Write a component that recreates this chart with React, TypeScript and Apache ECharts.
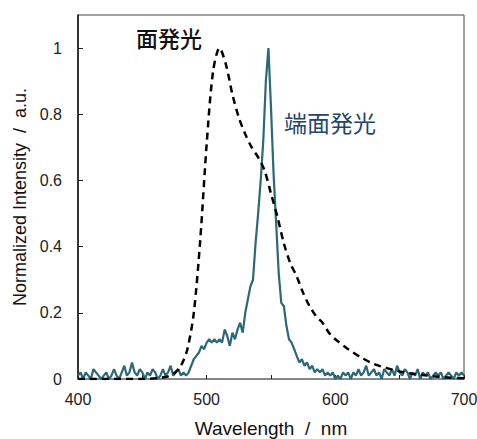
import React, { useEffect, useRef } from "react";
import * as echarts from "echarts";

const surfaceWl = [400, 450, 460, 465, 470, 475, 480, 485, 490, 495, 500, 505, 510, 515, 520, 525, 530, 535, 540, 545, 550, 555, 560, 565, 570, 575, 580, 585, 590, 595, 600, 610, 620, 630, 640, 650, 660, 670, 680, 690, 700];
const surfaceVal = [0, 0, 0.002, 0.004, 0.008, 0.018, 0.04, 0.09, 0.2, 0.42, 0.71, 0.93, 1.0, 0.95, 0.86, 0.79, 0.74, 0.7, 0.67, 0.63, 0.56, 0.49, 0.41, 0.35, 0.31, 0.26, 0.22, 0.19, 0.17, 0.14, 0.12, 0.09, 0.065, 0.045, 0.033, 0.023, 0.016, 0.011, 0.007, 0.004, 0.002];

const edgeStart = 400;
const edgeStep = 2;
const edgeVal = [
  0.01, 0.02, 0.0, 0.02, 0.01, 0.0, 0.03, 0.02, 0.01, 0.0,
  0.01, 0.02, 0.0, 0.01, 0.03, 0.01, 0.0, 0.02, 0.04, 0.01,
  0.02, 0.05, 0.02, 0.01, 0.03, 0.02, 0.0, 0.02, 0.01, 0.03,
  0.02, 0.0, 0.01, 0.03, 0.01, 0.02, 0.04, 0.01, 0.02, 0.03,
  0.01, 0.02, 0.01, 0.02, 0.04, 0.06, 0.07, 0.08, 0.1, 0.09,
  0.11, 0.12, 0.11, 0.12, 0.11, 0.12, 0.11, 0.15, 0.13, 0.1,
  0.14, 0.12, 0.15, 0.17, 0.14, 0.2, 0.24, 0.28, 0.3, 0.41,
  0.5, 0.6, 0.72, 0.9, 1.0, 0.82, 0.62, 0.47, 0.32, 0.23,
  0.22, 0.16, 0.12, 0.11, 0.09, 0.07, 0.05, 0.06, 0.04, 0.05,
  0.03, 0.04, 0.02, 0.03, 0.02, 0.03, 0.01, 0.02, 0.01, 0.02,
  0.0, 0.01, 0.0, 0.02, 0.01, 0.02, 0.0, 0.02, 0.01, 0.03,
  0.01, 0.02, 0.04, 0.01, 0.02, 0.03, 0.01, 0.02, 0.0, 0.03,
  0.02, 0.01, 0.03, 0.01, 0.04, 0.02, 0.01, 0.03, 0.02, 0.0,
  0.02, 0.01, 0.03, 0.0, 0.02, 0.01, 0.02, 0.0, 0.01, 0.02,
  0.01, 0.02, 0.0, 0.01, 0.02, 0.01, 0.0, 0.02, 0.01, 0.02,
  0.01,
];

const xTicks = [400, 500, 600, 700];
const yTicks = [0, 0.2, 0.4, 0.6, 0.8, 1];
const surfaceLabel = "面発光";
const edgeLabel = "端面発光";
const xTitle = "Wavelength  /  nm";
const yTitle = "Normalized Intensity  /  a.u.";

export default function App() {
  const ref = useRef<HTMLDivElement>(null);
  useEffect(() => {
    if (!ref.current) return;
    const chart = echarts.init(ref.current, null, { renderer: "svg" });
    const surfaceData = surfaceWl.map((w, i) => [w, surfaceVal[i]]);
    const edgeData = edgeVal.map((v, i) => [edgeStart + i * edgeStep, v]);
    const font = "'Liberation Sans', Arial, sans-serif";
    const cjk = "'Noto Sans CJK JP', sans-serif";
    chart.setOption({
      animation: false,
      grid: {
        left: 78,
        right: 13,
        top: 15,
        bottom: 60,
        outerBoundsMode: "none",
        containLabel: false,
        show: true,
        borderColor: "#444",
        borderWidth: 1,
      },
      xAxis: [
        {
          type: "value",
          min: 400,
          max: 700,
          interval: 50,
          name: xTitle,
          nameLocation: "middle",
          nameGap: 40,
          nameTextStyle: { fontSize: 19, color: "#111", fontFamily: font },
          axisLine: { show: true, lineStyle: { color: "#808080", width: 1.5 } },
          axisTick: { show: true, inside: true, length: 4, lineStyle: { color: "#222" } },
          axisLabel: {
            fontSize: 16,
            color: "#222",
            fontFamily: font,
            margin: 12,
            formatter: (v: number) => (xTicks.includes(v) ? String(v) : ""),
          },
          splitLine: { show: false },
        },
      ],
      yAxis: [
        {
          type: "value",
          min: 0,
          max: 1.1,
          interval: 0.2,
          name: yTitle,
          nameLocation: "middle",
          nameGap: 47,
          nameTextStyle: { fontSize: 18, color: "#111", fontFamily: font },
          axisLine: { show: true, lineStyle: { color: "#111", width: 1.5 } },
          axisTick: { show: true, inside: true, length: 5, lineStyle: { color: "#222" } },
          axisLabel: {
            fontSize: 16,
            color: "#222",
            fontFamily: font,
            margin: 16,
            showMaxLabel: false,
            formatter: (v: number) => {
              const r = Math.round(v * 10) / 10;
              return yTicks.includes(r) ? String(r) : "";
            },
          },
          splitLine: { show: false },
        },
      ],
      series: [
        {
          type: "line",
          data: surfaceData,
          showSymbol: false,
          smooth: 0.3,
          lineStyle: { color: "#000", width: 2.5, type: [7, 5] },
          z: 3,
        },
        {
          type: "line",
          data: edgeData,
          showSymbol: false,
          lineStyle: { color: "#2b6878", width: 2.2 },
          z: 2,
        },
      ],
      graphic: [
        {
          type: "text",
          left: 136,
          top: 26,
          style: { text: surfaceLabel, fontSize: 22, fontWeight: 500, fill: "#111", fontFamily: cjk },
        },
        {
          type: "text",
          left: 284,
          top: 110,
          style: { text: edgeLabel, fontSize: 23, fill: "#24466a", fontFamily: cjk },
        },
      ],
    });
    return () => chart.dispose();
  }, []);
  return <div ref={ref} style={{ position: "absolute", left: 0, top: 0, width: 477, height: 439 }} />;
}
